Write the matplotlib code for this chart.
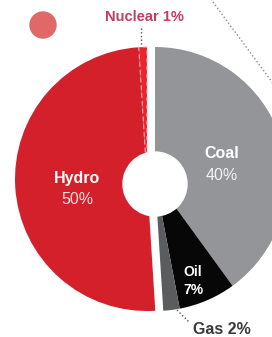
import matplotlib
matplotlib.use("Agg")
import matplotlib.pyplot as plt
from matplotlib.patches import Circle

plt.rcParams['font.family'] = ['Liberation Sans', 'DejaVu Sans']

# ---- data ----
right_labels = ['Coal', 'Oil', 'Gas']
right_shares = [40, 7, 2]
left_labels = ['Hydro', 'Nuclear']
left_shares = [50, 1]
right_colors = ['#949598', '#070707', '#5b5c5e']
left_colors = ['#d3202b', '#e92530']

W, H = 272, 337
fig = plt.figure(figsize=(W / 100, H / 100), dpi=100)
ax = fig.add_axes([0, 0, 1, 1])
ax.set_xlim(0, W)
ax.set_ylim(0, H)
ax.set_aspect('equal')
ax.axis('off')


def P(x, y):
    """pixel (top-left origin) -> data coords"""
    return x, H - y


R = 132
right_center = P(155, 179)
left_center = P(147, 179)

# right group (clockwise from 12 o'clock)
rw, _ = ax.pie([v / 100 for v in right_shares], normalize=False, startangle=90,
               counterclock=False, center=right_center, radius=R,
               colors=right_colors, frame=True,
               wedgeprops=dict(linewidth=0))
# left group continues where right group ends
start_left = 90 - 360 * sum(right_shares) / 100
lw_, _ = ax.pie([v / 100 for v in left_shares], normalize=False, startangle=start_left,
                counterclock=False, center=left_center, radius=R,
                colors=left_colors, frame=True,
                wedgeprops=dict(linewidth=0))
lw_[1].set_edgecolor('#f7b0b0')
lw_[1].set_linestyle((0, (4, 3)))
lw_[1].set_linewidth(0.8)

ax.set_xlim(0, W)
ax.set_ylim(0, H)
ax.axis('off')

# centre hole
ax.add_patch(Circle(P(155, 184), 32, color='white', zorder=5))
# decorative dot
ax.add_patch(Circle(P(43, 25), 13, color='#e06868', zorder=5))

# dotted guide lines
ax.plot(*zip(P(141, 28), P(141, 46)), ls=':', color='#555555', lw=1, zorder=6)
ax.plot(*zip(P(177, 310), P(189, 322)), ls=':', color='#555555', lw=1, zorder=6)
ax.plot(*zip(P(210, -2), P(275, 86)), ls=':', color='#8a8a8a', lw=1, zorder=6)

# labels
ax.text(*P(77, 178), left_labels[0], color='white', fontsize=11.5, fontweight='bold',
        ha='center', va='center', zorder=7)
ax.text(*P(77, 200), f'{left_shares[0]}%', color='#f8dede', fontsize=11.5,
        ha='center', va='center', zorder=7)
ax.text(*P(222, 153), right_labels[0], color='white', fontsize=11.5, fontweight='bold',
        ha='center', va='center', zorder=7)
ax.text(*P(222, 175), f'{right_shares[0]}%', color='#f2f2f2', fontsize=11.5,
        ha='center', va='center', zorder=7)
ax.text(*P(193, 272), right_labels[1], color='white', fontsize=10, fontweight='bold',
        ha='center', va='center', zorder=7)
ax.text(*P(193, 290), f'{right_shares[1]}%', color='white', fontsize=10, fontweight='bold',
        ha='center', va='center', zorder=7)
ax.text(*P(144, 17), f'{left_labels[1]} {left_shares[1]}%', color='#c43c5e', fontsize=10.5,
        fontweight='bold', ha='center', va='center', zorder=7)
ax.text(*P(222, 329), f'{right_labels[2]} {right_shares[2]}%', color='#3a3a3a', fontsize=11.5,
        fontweight='bold', ha='center', va='center', zorder=7)

fig.savefig('out.png', dpi=100)
